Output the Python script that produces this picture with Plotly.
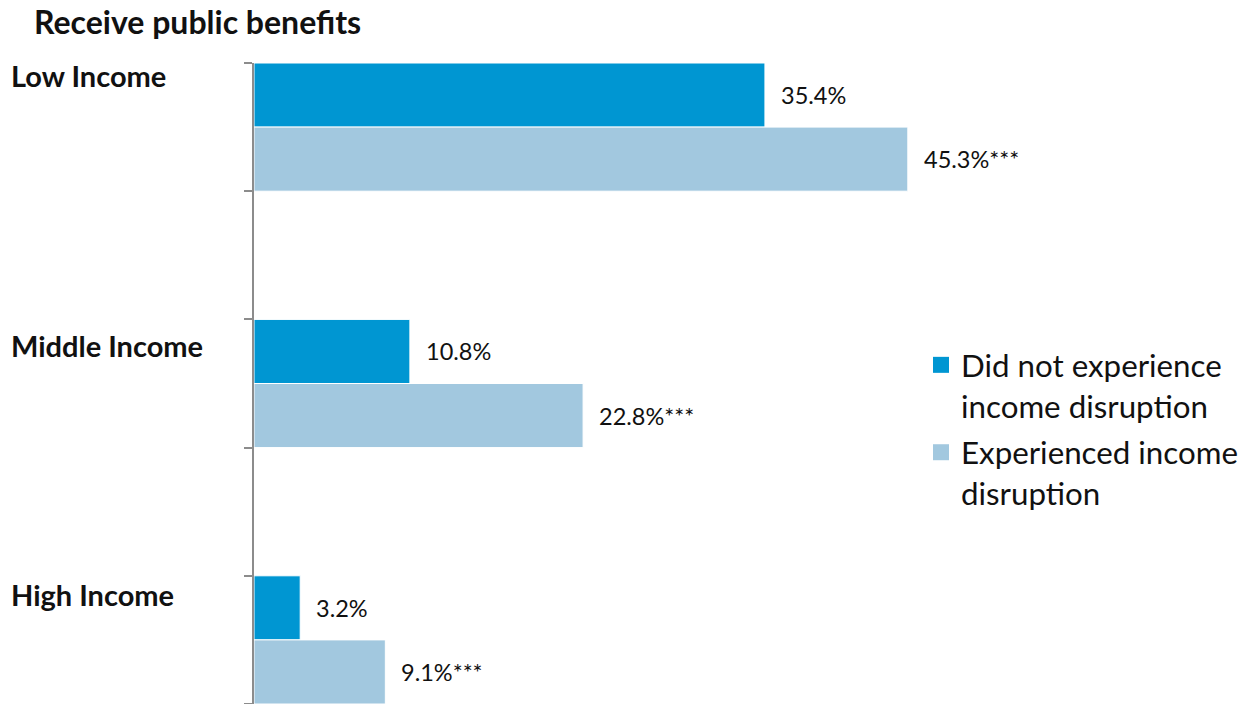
import plotly.graph_objects as go

# ---- data ----
categories = ["Low Income", "Middle Income", "High Income"]
series_names = ["Did not experience<br>income disruption", "Experienced income<br>disruption"]
no_disruption = [35.4, 10.8, 3.2]
disruption = [45.3, 22.8, 9.1]
no_disruption_labels = ["35.4%", "10.8%", "3.2%"]
disruption_labels = ["45.3%***", "22.8%***", "9.1%***"]
title_text = "Receive public benefits"

# ---- style ----
DARK = "#0096D2"
LIGHT = "#A2C8DF"
FONT = "Lato"
slot_positions = [0, 2, 4]          # groups separated by an empty slot
label_pixel_shift = [-12, -26, -19]  # vertical offset of category labels from group top

fig = go.Figure()
fig.add_trace(go.Bar(
    y=slot_positions, x=no_disruption, orientation="h", name=series_names[0],
    width=0.5, offset=-0.5,
    marker=dict(color=DARK, line=dict(color="white", width=1)), showlegend=False,
    hoverinfo="x",
))
fig.add_trace(go.Bar(
    y=slot_positions, x=disruption, orientation="h", name=series_names[1],
    width=0.5, offset=0,
    marker=dict(color=LIGHT, line=dict(color="white", width=1)), showlegend=False,
    hoverinfo="x",
))
# legend proxies (bigger squares)
for i, (nm, col) in enumerate(zip(series_names, [DARK, LIGHT])):
    fig.add_trace(go.Scatter(x=[None], y=[None], mode="markers", name=nm, legendgroup=f"g{i}",
                             marker=dict(symbol="square", size=16, color=col)))

annotations = []
for pos, v, t in zip(slot_positions, no_disruption, no_disruption_labels):
    annotations.append(dict(x=v, y=pos - 0.25, xref="x", yref="y", text=t, showarrow=False,
                            xanchor="left", yanchor="middle", xshift=14,
                            font=dict(family=FONT, size=23.5, color="#111")))
for pos, v, t in zip(slot_positions, disruption, disruption_labels):
    annotations.append(dict(x=v, y=pos + 0.25, xref="x", yref="y", text=t, showarrow=False,
                            xanchor="left", yanchor="middle", xshift=14,
                            font=dict(family=FONT, size=23.5, color="#111")))
for pos, cat, sh in zip(slot_positions, categories, label_pixel_shift):
    annotations.append(dict(x=-245 / 993, y=pos - 0.5, xref="paper", yref="y", text="<b>" + cat + "</b>",
                            showarrow=False, xanchor="left", yanchor="middle", yshift=sh,
                            font=dict(family=FONT, size=29, color="#111")))

tick_bounds = [-0.5, 0.5, 1.5, 2.5, 3.5, 4.5]

fig.update_layout(
    width=1247, height=704,
    margin=dict(l=254, r=0, t=63, b=0),
    paper_bgcolor="white", plot_bgcolor="white",
    barmode="overlay",
    title=dict(text="<b>" + title_text + "</b>", x=34 / 1247, xref="container", xanchor="left",
               y=1 - 23 / 704, yref="container", yanchor="middle",
               font=dict(family=FONT, size=32, color="#111")),
    xaxis=dict(range=[0, 68.8], visible=False, showgrid=False, zeroline=False),
    yaxis=dict(range=[4.5, -0.5], showgrid=False, zeroline=False, showline=True,
               linecolor="#8c8c8c", linewidth=2, tickmode="array", tickvals=tick_bounds,
               ticktext=[""] * len(tick_bounds), ticks="outside", ticklen=8, tickwidth=2,
               tickcolor="#8c8c8c", showticklabels=False),
    legend=dict(x=(921 - 254) / 993, xref="paper", xanchor="left", y=(704 - 338) / 641, yanchor="top",
                valign="top", font=dict(family=FONT, size=31.3, color="#111"),
                bgcolor="rgba(0,0,0,0)", itemsizing="trace", tracegroupgap=3),
    annotations=annotations,
    showlegend=True,
)

fig.write_html("out.html")
